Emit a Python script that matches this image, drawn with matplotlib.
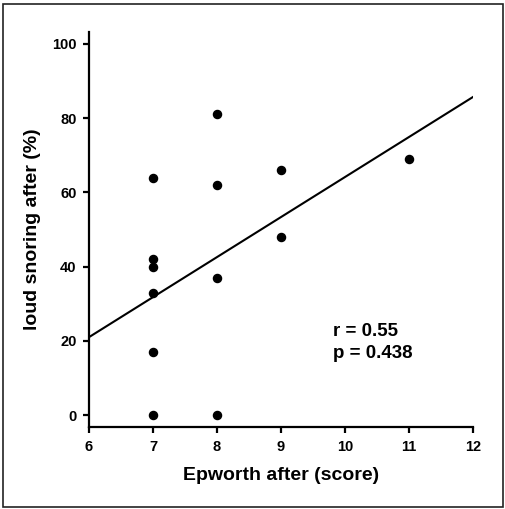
import matplotlib
matplotlib.use('Agg')
import matplotlib.pyplot as plt
from matplotlib.patches import Rectangle

plt.rcParams['font.family'] = ['Liberation Sans', 'DejaVu Sans']
plt.rcParams['font.weight'] = 'bold'

# data
epworth = [7, 7, 7, 7, 7, 7, 8, 8, 8, 8, 9, 9, 11]
snoring = [0, 17, 33, 40, 42, 64, 0, 37, 62, 81, 48, 66, 69]
fit_x = [6, 12]
fit_y = [21.0, 85.7]
x_ticks = [6, 7, 8, 9, 10, 11, 12]
y_ticks = [0, 20, 40, 60, 80, 100]

fig = plt.figure(figsize=(5.05, 5.09), dpi=100)
ax = fig.add_axes([0.1762, 0.1611, 0.7604, 0.776])

ax.scatter(epworth, snoring, s=34, c='black', zorder=3, clip_on=False)
ax.plot(fit_x, fit_y, c='black', lw=1.5)

ax.set_xlim(6, 12)
ax.set_ylim(-3.2, 103.2)
ax.set_xticks(x_ticks)
ax.set_yticks(y_ticks)
ax.spines['top'].set_visible(False)
ax.spines['right'].set_visible(False)
ax.spines['left'].set_linewidth(1.6)
ax.spines['bottom'].set_linewidth(1.6)
ax.tick_params(direction='out', length=4, width=1.6, labelsize=10.5, pad=5)
for lbl in ax.get_xticklabels() + ax.get_yticklabels():
    lbl.set_fontweight('bold')

ax.set_xlabel('Epworth after (score)', fontsize=14, fontweight='bold', labelpad=10)
ax.set_ylabel('loud snoring after (%)', fontsize=14, fontweight='bold', labelpad=8)

ax.text(9.81, 22.6, 'r = 0.55', fontsize=13.5, fontweight='bold', va='center')
ax.text(9.81, 16.7, 'p = 0.438', fontsize=13.5, fontweight='bold', va='center')

# frame around the whole picture
fig.patches.append(Rectangle((3 / 505, 2 / 509), 500 / 505, 503 / 509,
                             transform=fig.transFigure, fill=False,
                             edgecolor='#222222', lw=1.2))

fig.savefig('out.png', dpi=100)
